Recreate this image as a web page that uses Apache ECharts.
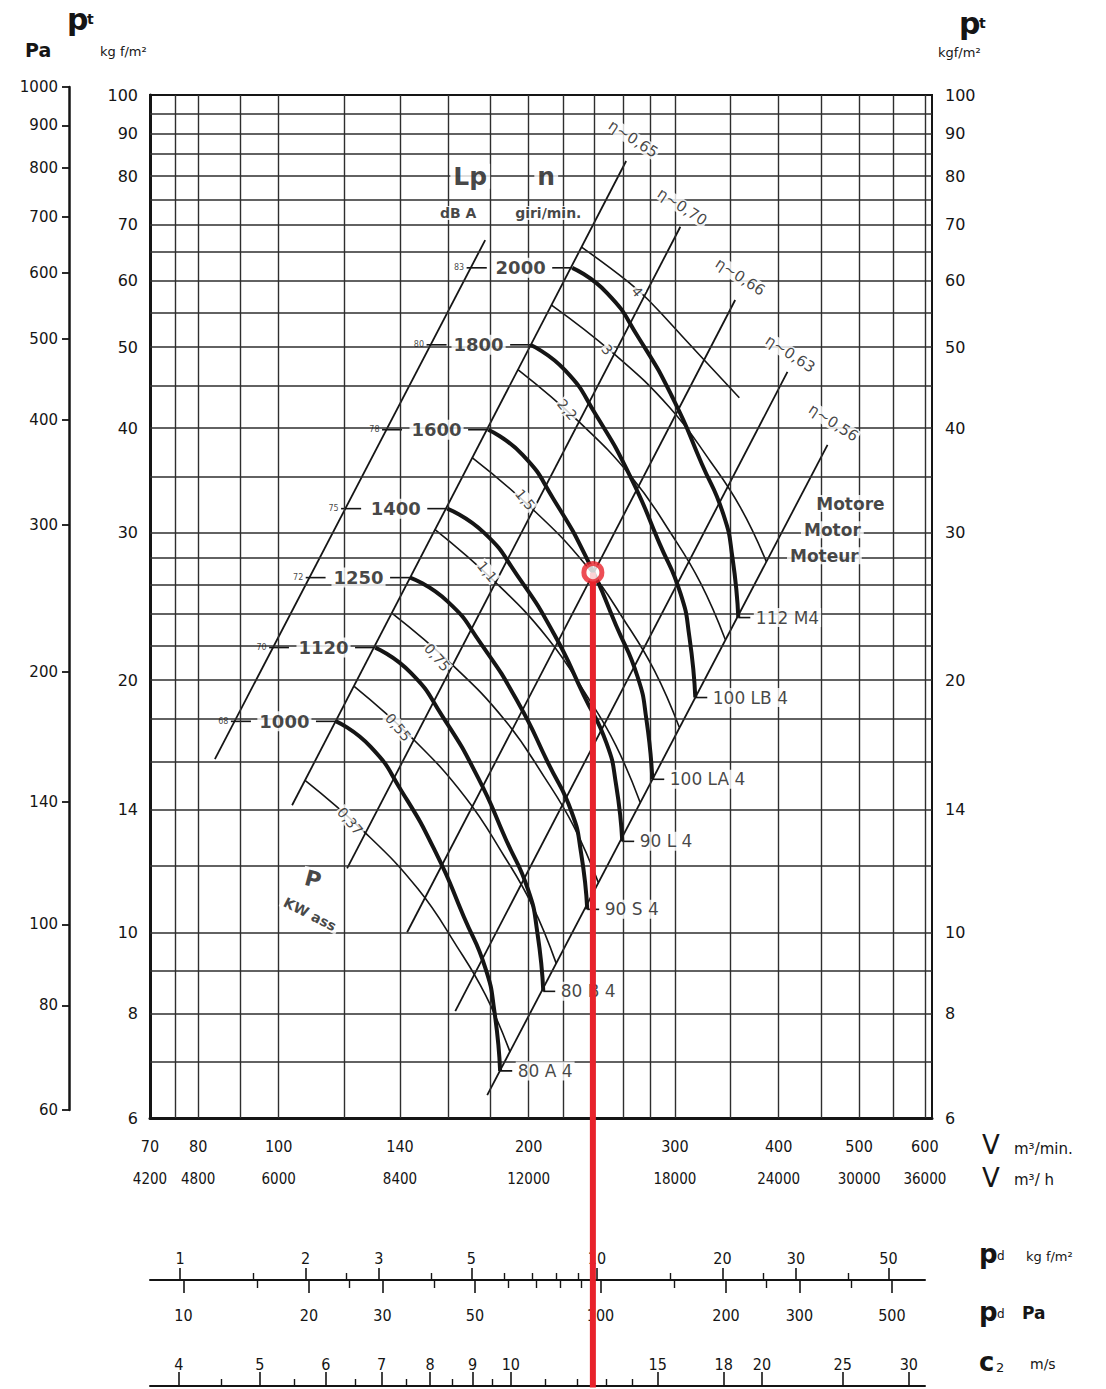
<!DOCTYPE html>
<html>
<head>
<meta charset="utf-8">
<script src="https://cdn.jsdelivr.net/npm/echarts@6.0.0/dist/echarts.min.js"></script>
<style>
html,body{margin:0;padding:0;background:#ffffff;}
#chart{width:1106px;height:1389px;}
</style>
</head>
<body>
<div id="chart"></div>
<script>
// ===== data =====
// axes (V in m3/min, pt in kgf/m2)
const vTicks = [70, 80, 100, 140, 200, 300, 400, 500, 600];
const vhTicks = [4200, 4800, 6000, 8400, 12000, 18000, 24000, 30000, 36000];
const pTicks = [6, 8, 10, 14, 20, 30, 40, 50, 60, 70, 80, 90, 100];
const paTicks = [60, 80, 100, 140, 200, 300, 400, 500, 600, 700, 800, 900, 1000];
const gridV = [75, 80, 90, 100, 120, 140, 160, 180, 200, 220, 240, 260, 280, 300, 350, 400, 450, 500, 550, 600];
const gridP = [7, 8, 9, 10, 12, 14, 16, 18, 20, 22, 24, 26, 28, 30, 35, 40, 45, 50, 55, 60, 65, 70, 75, 80, 85, 90, 95];
// bottom scales
const pdTicks = [1, 2, 3, 5, 10, 20, 30, 50];
const pdMinor = [1.5, 2.5, 4, 6, 7, 8, 9, 15, 25, 40];
const pdPaTicks = [10, 20, 30, 50, 100, 200, 300, 500];
const pdPaMinor = [15, 25, 40, 60, 70, 80, 90, 150, 250, 400];
const c2Ticks = [4, 5, 6, 7, 8, 9, 10, 15, 18, 20, 25, 30];
const c2Minor = [4.5, 5.5, 6.5, 7.5, 8.5, 9.5, 11, 12, 13, 14];

// fan curves [V, pt]
const rpm = [2000, 1800, 1600, 1400, 1250, 1120, 1000];
const dBA = [83, 80, 78, 75, 72, 70, 68];
const motors = ['112 M4', '100 LB 4', '100 LA 4', '90 L 4', '90 S 4', '80 B 4', '80 A 4'];
const fan2000 = [[225.7,62.17],[248.6,58.01],[271.3,51.29],[299.0,43.25],[323.2,36.28],[343.2,31.55],[352.0,27.98],[357.7,23.76]];
const fan1800 = [[200.9,50.31],[221.2,46.92],[241.2,41.44],[265.6,34.90],[287.1,29.22],[304.7,25.39],[312.4,22.49],[317.5,19.07]];
const fan1600 = [[178.8,39.83],[196.7,37.17],[214.5,32.86],[236.0,27.71],[254.9,23.25],[270.4,20.22],[277.3,17.93],[281.8,15.23]];
const fan1400 = [[159.6,32.06],[176.7,30.01],[193.7,26.70],[214.6,22.71],[233.0,19.20],[248.2,16.82],[254.9,15.00],[259.3,12.84]];
const fan1250 = [[144.0,26.52],[159.7,24.84],[175.3,22.10],[194.3,18.80],[211.2,15.91],[225.2,13.94],[231.3,12.44],[235.3,10.65]];
const fan1120 = [[130.7,21.88],[144.1,20.44],[157.5,18.11],[173.7,15.32],[187.9,12.89],[199.7,11.24],[204.9,9.99],[208.3,8.50]];
const fan1000 = [[117.3,17.86],[129.0,16.66],[140.7,14.73],[154.8,12.42],[167.2,10.42],[177.4,9.06],[181.9,8.04],[184.8,6.83]];
const fanCurves = [fan2000, fan1800, fan1600, fan1400, fan1250, fan1120, fan1000];
// Lp / n scale ticks (V of tick ends)
const lpTickFrom = [168.4, 150.7, 133.2, 118.9, 107.8, 97.4, 87.6];
const lpTickTo = [178.1, 159.3, 140.8, 125.7, 113.9, 102.9, 92.6];
const startTickFrom = [213.5, 190.0, 169.1, 151.0, 136.2, 123.6, 110.9];
const motorTickTo = [369.8, 328.2, 291.3, 268.0, 243.2, 215.3, 191.1];

// absorbed power lines (kW)
const pwNames = ['4', '3', '2,2', '1,5', '1,1', '0,75', '0,55', '0,37'];
const pw4 = [[231.4,65.86],[263.6,59.82],[278.6,56.94],[311.3,50.59],[358.7,43.49]];
const pw3 = [[212.9,56.16],[253.2,49.11],[295.7,42.34],[331.1,36.50],[359.9,32.15],[386.6,27.71]];
const pw22 = [[194.3,46.97],[229.5,40.79],[266.5,34.91],[297.2,29.88],[322.1,26.14],[345.0,22.37]];
const pw15 = [[171.0,36.88],[202.0,32.04],[234.6,27.41],[261.6,23.46],[283.5,20.53],[303.7,17.57]];
const pw11 = [[154.3,30.26],[182.0,26.24],[211.1,22.42],[235.1,19.15],[254.6,16.73],[272.5,14.29]];
const pw075 = [[137.0,24.03],[161.7,20.88],[187.6,17.88],[209.1,15.30],[226.5,13.40],[242.6,11.47]];
const pw055 = [[123.3,19.66],[145.1,17.02],[167.8,14.50],[186.6,12.36],[201.9,10.78],[215.9,9.18]];
const pw037 = [[107.6,15.18],[126.9,13.17],[147.2,11.26],[163.9,9.62],[177.5,8.41],[190.0,7.19]];
const pwLines = [pw4, pw3, pw22, pw15, pw11, pw075, pw055, pw037];
const pwLabelPos = [[270.3,58.2],[248.7,49.62],[222.6,42.09],[198.1,32.86],[178.3,26.96],[155.2,21.29],[139.3,17.57],[121.9,13.57]];

// efficiency lines and Lp scale line
const lpLine = [[83.8,16.1],[177.3,67.1]];
const eta065 = [[103.8,14.18],[262.1,83.4]];
const eta070 = [[120.9,11.92],[304.6,69.6]];
const eta066 = [[142.8,10.0],[354.6,56.9]];
const eta063 = [[163.2,8.05],[409.9,46.7]];
const eta056 = [[178.3,6.39],[458.1,38.2]];
const etaLines = [eta065, eta070, eta066, eta063, eta056];
const etaNames = ['η~0,65', 'η~0,70', 'η~0,66', 'η~0,63', 'η~0,56'];
const etaLabelPos = [[267.3,88.6],[306.2,73.5],[359.7,60.65],[413.1,49.08],[465.6,40.6]];

// free texts inside the plot [V, pt]
const plotTexts = ['Lp', 'n', 'dB A', 'giri/min.', 'P', 'KW ass', 'Motore', 'Motor', 'Moteur'];
const plotTextPos = [[170.1,80],[210.0,80],[164.5,72.3],[211.2,72.3],[110.0,11.57],[109.1,10.51],[488.1,32.51],[464.3,30.26],[454.1,28.17]];

// operating point
const opPoint = [239, 26.89];
const opLineEnd = 2.86;

// ===== chart =====
const FONT = "'DejaVu Sans', 'Liberation Sans', sans-serif";
const NARROW = "'DejaVu Sans Condensed', 'Liberation Sans Narrow', 'DejaVu Sans', sans-serif";
const INK = '#151515';
const RED = '#e8222b';

function seg(data, width, z, extra) {
  return Object.assign({
    type: 'line', xAxisIndex: 0, yAxisIndex: 0, data: data, symbol: 'none',
    lineStyle: { color: INK, width: width }, silent: true, z: z, animation: false
  }, extra || {});
}
function txt(pos, text, lab) {
  return { value: pos, name: text, label: Object.assign({ show: true, formatter: '{b}', color: INK, fontFamily: FONT }, lab) };
}
function textSeries(items, z) {
  return { type: 'scatter', xAxisIndex: 0, yAxisIndex: 0, symbolSize: 1, itemStyle: { color: 'rgba(0,0,0,0)' },
    silent: true, z: z, animation: false, data: items };
}
const fmt = v => String(Math.round(v * 100) / 100);
function axLabel(vals, margin, font, size, extra) {
  return Object.assign({ customValues: vals, margin: margin, fontFamily: font, fontSize: size, color: INK, formatter: fmt }, extra || {});
}

const series = [];
// grid lines
series.push({
  type: 'line', xAxisIndex: 0, yAxisIndex: 0, data: [[70, 6]], symbol: 'none', lineStyle: { opacity: 0 }, silent: true, z: 1, animation: false,
  markLine: {
    silent: true, symbol: ['none', 'none'], label: { show: false }, animation: false,
    data: gridP.map(v => ({ yAxis: v, lineStyle: { color: '#2e2e2e', width: 1.6, type: 'solid' } }))
      .concat(gridV.map(v => ({ xAxis: v, lineStyle: { color: '#2e2e2e', width: 1.4, type: 'solid' } })))
  }
});
// Lp line and efficiency lines
series.push(seg(lpLine, 1.8, 3));
etaLines.forEach(d => series.push(seg(d, 1.8, 3)));
// power lines
pwLines.forEach(d => series.push(seg(d, 1.6, 3, { smooth: 0.45 })));
// fan curves
fanCurves.forEach(d => series.push(seg(d, 4, 5, { smooth: 0.55 })));
// Lp ticks + start ticks + motor ticks
fanCurves.forEach((d, i) => {
  const p = d[0][1];
  series.push(seg([[lpTickFrom[i], p], [lpTickTo[i], p]], 1.6, 4));
  series.push(seg([[startTickFrom[i], p], [d[0][0], p]], 1.6, 4));
  const e = d[d.length - 1];
  series.push(seg([[e[0], e[1]], [motorTickTo[i], e[1]]], 1.6, 4));
});

// labels
const labelItems = [];
fanCurves.forEach((d, i) => {
  const p = d[0][1];
  labelItems.push(txt([startTickFrom[i], p], String(rpm[i]), { position: 'left', distance: 4, fontSize: 18, fontWeight: 'bold', backgroundColor: '#fff', padding: [1, 2] }));
  labelItems.push(txt([lpTickFrom[i], p], String(dBA[i]), { position: 'left', distance: 2, fontSize: 8 }));
  const e = d[d.length - 1];
  labelItems.push(txt([motorTickTo[i], e[1]], motors[i], { position: 'right', distance: 3, fontSize: 17, backgroundColor: '#fff', padding: [1, 2] }));
});
etaNames.forEach((n, i) => labelItems.push(txt(etaLabelPos[i], n, { position: 'inside', rotate: -33, fontSize: 15, backgroundColor: '#fff', padding: [0, 1] })));
pwNames.forEach((n, i) => labelItems.push(txt(pwLabelPos[i], n, { position: 'inside', rotate: -50, fontSize: 14, backgroundColor: '#fff', padding: [0, 1] })));
const ptStyles = [
  { fontSize: 25, fontWeight: 'bold' },
  { fontSize: 25, fontWeight: 'bold' },
  { fontSize: 14, fontWeight: 'bold' },
  { fontSize: 14, fontWeight: 'bold' },
  { fontSize: 22, fontWeight: 'bold', rotate: -15 },
  { fontSize: 14, fontWeight: 'bold', rotate: -27 },
  { fontSize: 17, fontWeight: 'bold' },
  { fontSize: 17, fontWeight: 'bold' },
  { fontSize: 17, fontWeight: 'bold' }
];
plotTexts.forEach((t, i) => labelItems.push(txt(plotTextPos[i], t, Object.assign({ position: 'inside', backgroundColor: '#fff', padding: [0, 3] }, ptStyles[i]))));
series.push(textSeries(labelItems, 8));

// operating point + red line
series.push(seg([[opPoint[0], opPoint[1]], [opPoint[0], opLineEnd]], 6, 20, { clip: false, lineStyle: { color: RED, width: 6 } }));
series.push({ type: 'scatter', xAxisIndex: 0, yAxisIndex: 0, data: [opPoint], symbol: 'circle', symbolSize: 18,
  itemStyle: { color: '#fff', borderColor: RED, borderWidth: 5 }, silent: true, z: 21, animation: false });

const option = {
  animation: false,
  backgroundColor: '#ffffff',
  grid: [
    { left: 150, top: 95, width: 782, height: 1023, show: true, borderColor: INK, borderWidth: 2, backgroundColor: 'transparent' },
    { left: 69, top: 87, width: 1, height: 1023 },
    { left: 150, top: 1280, width: 775, height: 1 },
    { left: 150, top: 1386, width: 775, height: 1 }
  ],
  xAxis: [
    { gridIndex: 0, type: 'log', logBase: 10, min: 70, max: 612, position: 'bottom',
      axisLine: { onZero: false, lineStyle: { color: INK, width: 3 } }, axisTick: { show: false }, splitLine: { show: false },
      axisLabel: axLabel(vTicks, 20, NARROW, 16) },
    { gridIndex: 0, type: 'log', logBase: 10, min: 4200, max: 36720, position: 'bottom', offset: 33,
      axisLine: { show: false, onZero: false }, axisTick: { show: false }, splitLine: { show: false },
      axisLabel: axLabel(vhTicks, 20, NARROW, 15) },
    { gridIndex: 1, type: 'value', show: false },
    { gridIndex: 2, type: 'log', logBase: 10, min: 0.8475, max: 61.2, position: 'top',
      axisLine: { onZero: false, lineStyle: { color: INK, width: 2 } },
      axisTick: { show: true, customValues: pdTicks, length: 12, lineStyle: { color: INK, width: 1.6 } }, splitLine: { show: false },
      axisLabel: axLabel(pdTicks, 14, NARROW, 16) },
    { gridIndex: 2, type: 'log', logBase: 10, min: 0.8475, max: 61.2, position: 'top',
      axisLine: { show: false, onZero: false },
      axisTick: { show: true, customValues: pdMinor, length: 7, lineStyle: { color: INK, width: 1.4 } }, splitLine: { show: false },
      axisLabel: { show: false } },
    { gridIndex: 2, type: 'log', logBase: 10, min: 8.311, max: 600.2, position: 'bottom',
      axisLine: { show: false, onZero: false },
      axisTick: { show: true, customValues: pdPaTicks, length: 12, lineStyle: { color: INK, width: 1.6 } }, splitLine: { show: false },
      axisLabel: axLabel(pdPaTicks, 26, NARROW, 16) },
    { gridIndex: 2, type: 'log', logBase: 10, min: 8.311, max: 600.2, position: 'bottom',
      axisLine: { show: false, onZero: false },
      axisTick: { show: true, customValues: pdPaMinor, length: 7, lineStyle: { color: INK, width: 1.4 } }, splitLine: { show: false },
      axisLabel: { show: false } },
    { gridIndex: 3, type: 'log', logBase: 10, min: 3.693, max: 31.37, position: 'top',
      axisLine: { onZero: false, lineStyle: { color: INK, width: 2 } },
      axisTick: { show: true, customValues: c2Ticks, length: 14, lineStyle: { color: INK, width: 1.6 } }, splitLine: { show: false },
      axisLabel: axLabel(c2Ticks, 14, NARROW, 16) },
    { gridIndex: 3, type: 'log', logBase: 10, min: 3.693, max: 31.37, position: 'top',
      axisLine: { show: false, onZero: false },
      axisTick: { show: true, customValues: c2Minor, length: 7, lineStyle: { color: INK, width: 1.4 } }, splitLine: { show: false },
      axisLabel: { show: false } }
  ],
  yAxis: [
    { gridIndex: 0, type: 'log', logBase: 10, min: 6, max: 100, position: 'left',
      axisLine: { onZero: false, lineStyle: { color: INK, width: 3 } }, axisTick: { show: false }, splitLine: { show: false },
      axisLabel: axLabel(pTicks, 12, FONT, 16) },
    { gridIndex: 0, type: 'log', logBase: 10, min: 6, max: 100, position: 'right',
      axisLine: { onZero: false, lineStyle: { color: INK, width: 2 } }, axisTick: { show: false }, splitLine: { show: false },
      axisLabel: axLabel(pTicks, 13, FONT, 16) },
    { gridIndex: 1, type: 'log', logBase: 10, min: 60, max: 1000, position: 'left',
      axisLine: { onZero: false, lineStyle: { color: INK, width: 2.5 } },
      axisTick: { show: true, customValues: paTicks, length: 7, lineStyle: { color: INK, width: 1.8 } }, splitLine: { show: false },
      axisLabel: axLabel(paTicks, 11, FONT, 15) },
    { gridIndex: 2, type: 'value', show: false },
    { gridIndex: 3, type: 'value', show: false }
  ],
  graphic: [
    { type: 'text', left: 67, top: 4, style: { text: 'p', fontSize: 30, fontWeight: 'bold', fontFamily: FONT, fill: INK } },
    { type: 'text', left: 87, top: 12, style: { text: 't', fontSize: 14, fontWeight: 'bold', fontFamily: FONT, fill: INK } },
    { type: 'text', left: 25, top: 40, style: { text: 'Pa', fontSize: 19, fontWeight: 'bold', fontFamily: FONT, fill: INK } },
    { type: 'text', left: 100, top: 45, style: { text: 'kg f/m²', fontSize: 13, fontFamily: FONT, fill: INK } },
    { type: 'text', left: 959, top: 8, style: { text: 'p', fontSize: 30, fontWeight: 'bold', fontFamily: FONT, fill: INK } },
    { type: 'text', left: 979, top: 16, style: { text: 't', fontSize: 14, fontWeight: 'bold', fontFamily: FONT, fill: INK } },
    { type: 'text', left: 938, top: 46, style: { text: 'kgf/m²', fontSize: 13, fontFamily: FONT, fill: INK } },
    { type: 'text', left: 982, top: 1132, style: { text: 'V', fontSize: 26, fontFamily: FONT, fill: INK } },
    { type: 'text', left: 1014, top: 1141, style: { text: 'm³/min.', fontSize: 15, fontFamily: FONT, fill: INK } },
    { type: 'text', left: 982, top: 1165, style: { text: 'V', fontSize: 26, fontFamily: FONT, fill: INK } },
    { type: 'text', left: 1014, top: 1172, style: { text: 'm³/ h', fontSize: 15, fontFamily: FONT, fill: INK } },
    { type: 'text', left: 979, top: 1241, style: { text: 'p', fontSize: 26, fontWeight: 'bold', fontFamily: FONT, fill: INK } },
    { type: 'text', left: 997, top: 1250, style: { text: 'd', fontSize: 12, fontFamily: FONT, fill: INK } },
    { type: 'text', left: 1026, top: 1250, style: { text: 'kg f/m²', fontSize: 13, fontFamily: FONT, fill: INK } },
    { type: 'text', left: 979, top: 1299, style: { text: 'p', fontSize: 26, fontWeight: 'bold', fontFamily: FONT, fill: INK } },
    { type: 'text', left: 997, top: 1308, style: { text: 'd', fontSize: 12, fontFamily: FONT, fill: INK } },
    { type: 'text', left: 1022, top: 1304, style: { text: 'Pa', fontSize: 17, fontWeight: 'bold', fontFamily: FONT, fill: INK } },
    { type: 'text', left: 979, top: 1349, style: { text: 'c', fontSize: 26, fontWeight: 'bold', fontFamily: FONT, fill: INK } },
    { type: 'text', left: 996, top: 1361, style: { text: '2', fontSize: 13, fontFamily: FONT, fill: INK } },
    { type: 'text', left: 1030, top: 1357, style: { text: 'm/s', fontSize: 14, fontFamily: FONT, fill: INK } }
  ],
  series: series
};

const chart = echarts.init(document.getElementById('chart'), null, { renderer: 'svg', width: 1106, height: 1389 });
chart.setOption(option);
</script>
</body>
</html>
